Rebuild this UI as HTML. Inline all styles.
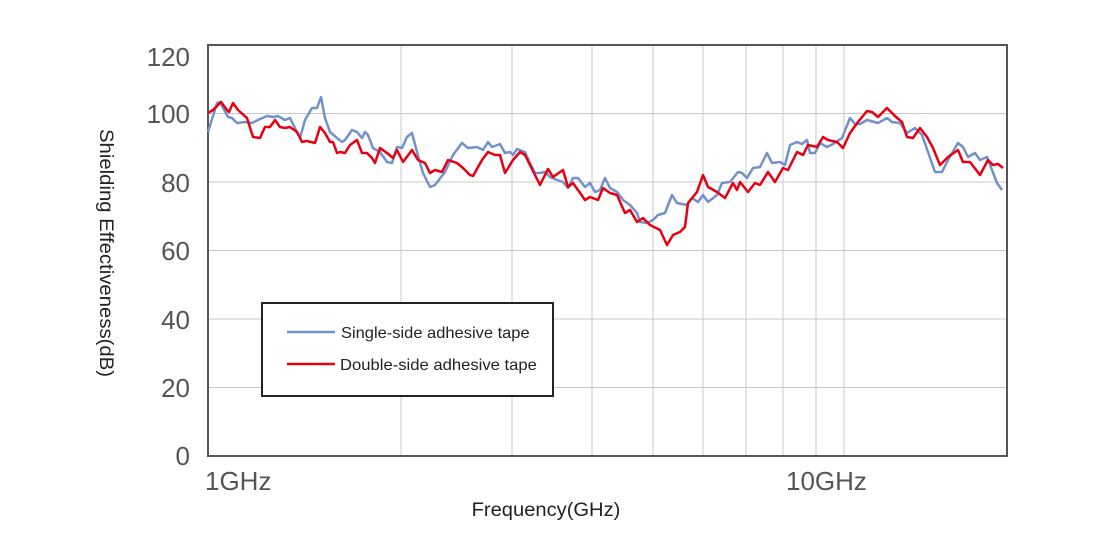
<!DOCTYPE html>
<html><head><meta charset="utf-8"><style>
body{margin:0;background:#fff}
svg text{font-family:"Liberation Sans",sans-serif}
</style></head><body>
<svg width="1116" height="555" xmlns="http://www.w3.org/2000/svg">
<rect width="1116" height="555" fill="#fff"/>
<g stroke="#c8c8c8" stroke-width="1">
<line x1="401" y1="45" x2="401" y2="456"/><line x1="512" y1="45" x2="512" y2="456"/>
<line x1="592" y1="45" x2="592" y2="456"/><line x1="653" y1="45" x2="653" y2="456"/>
<line x1="703" y1="45" x2="703" y2="456"/><line x1="746" y1="45" x2="746" y2="456"/>
<line x1="783" y1="45" x2="783" y2="456"/><line x1="816" y1="45" x2="816" y2="456"/>
<line x1="844" y1="45" x2="844" y2="456"/>
<line x1="208" y1="387.5" x2="1007" y2="387.5"/><line x1="208" y1="319" x2="1007" y2="319"/>
<line x1="208" y1="250.5" x2="1007" y2="250.5"/><line x1="208" y1="182" x2="1007" y2="182"/>
<line x1="208" y1="113.5" x2="1007" y2="113.5"/>
</g>
<rect x="208" y="45" width="799" height="411" fill="none" stroke="#555" stroke-width="2"/>
<g font-size="26" fill="#555" text-anchor="end">
<text x="190" y="66">120</text><text x="190" y="123">100</text><text x="190" y="192">80</text>
<text x="190" y="260">60</text><text x="190" y="329">40</text><text x="190" y="397">20</text><text x="190" y="465">0</text>
</g>
<text x="205" y="490" font-size="26" fill="#555">1GHz</text>
<text x="786" y="490" font-size="26" fill="#555">10GHz</text>
<text x="546" y="516" font-size="19" fill="#222" text-anchor="middle" transform="translate(546 0) scale(1.06 1) translate(-546 0)">Frequency(GHz)</text>
<text font-size="19" fill="#222" text-anchor="middle" transform="translate(100 253) rotate(90) scale(1.07 1)">Shielding Effectiveness(dB)</text>
<polyline fill="none" stroke="#7391cb" stroke-width="2.5" stroke-linejoin="round" points="208,132 217,103 220,102 228,117 232,118 237,123 245,122 252,123 258,120 267,116 273,117 278,116 285,120 290,118 295,128 300,138 305,120 312,108 317,108 321,97 325,118 330,132 337,138 342,142 345,140 352,130 357,132 362,138 365,132 368,135 373,148 380,152 387,162 392,163 397,147 402,148 407,137 412,133 417,152 423,173 430,187 435,185 445,172 453,155 462,143 468,148 477,147 483,150 488,142 492,147 500,144 505,153 510,152 513,155 517,149 525,152 530,163 535,173 540,173 545,172 550,177 557,180 563,182 568,188 573,178 578,178 585,187 590,183 595,192 600,190 605,178 610,188 617,192 623,200 630,205 637,213 640,222 647,223 653,220 658,215 665,213 672,195 677,203 687,205 692,198 698,202 703,195 708,202 717,195 722,183 730,182 738,172 742,173 747,178 753,168 760,167 767,153 772,163 780,162 785,165 790,145 797,142 802,144 807,140 810,153 815,153 820,143 827,147 835,143 842,138 850,118 855,124 860,124 867,120 878,123 887,118 892,122 900,123 907,133 915,128 922,135 928,152 935,172 942,172 948,160 958,143 963,147 968,157 975,153 980,160 987,157 992,170 997,183 1002,190"/>
<polyline fill="none" stroke="#e60012" stroke-width="2.5" stroke-linejoin="round" points="208,113 213,110 221,102 227,110 229,112 233,103 238,110 247,118 253,137 260,138 265,127 270,127 275,120 280,127 285,128 290,127 297,132 302,142 307,141 315,143 320,127 325,133 330,142 333,142 337,153 340,152 345,153 350,145 357,140 362,153 367,153 372,158 375,163 380,148 387,153 393,158 397,150 403,162 412,150 418,160 425,163 430,173 435,170 442,172 448,160 457,163 463,168 470,175 473,176 482,160 488,152 495,155 500,155 505,173 513,160 520,152 525,155 530,165 540,185 548,169 553,177 563,170 568,187 573,183 578,190 585,200 590,197 598,200 603,188 610,193 617,195 625,213 630,210 637,222 643,218 650,225 660,230 667,245 673,235 680,232 685,227 688,203 697,192 703,175 708,187 717,192 725,198 733,183 737,190 740,182 748,192 755,183 760,185 768,172 775,182 783,168 788,170 797,152 803,155 808,145 817,147 823,137 828,140 837,142 843,148 850,133 858,122 867,111 872,112 878,117 887,108 895,116 902,122 907,137 913,138 920,128 927,137 933,148 940,165 948,157 958,150 963,162 970,162 980,175 988,160 993,165 998,164 1003,168"/>
<rect x="262" y="303" width="291" height="93" fill="#fff" stroke="#222" stroke-width="2"/>
<line x1="287" y1="332" x2="335" y2="332" stroke="#7391cb" stroke-width="2.5"/>
<line x1="287" y1="364" x2="335" y2="364" stroke="#e60012" stroke-width="2.5"/>
<text x="341" y="338" font-size="16" fill="#222" transform="translate(341 0) scale(1.03 1) translate(-341 0)">Single-side adhesive tape</text>
<text x="340" y="370" font-size="16" fill="#222" transform="translate(340 0) scale(1.04 1) translate(-340 0)">Double-side adhesive tape</text>
</svg>
</body></html>
